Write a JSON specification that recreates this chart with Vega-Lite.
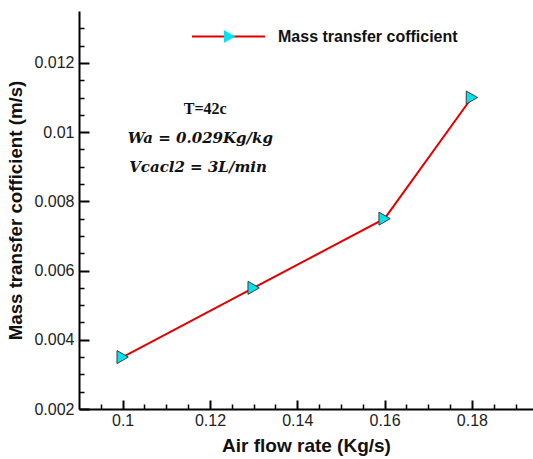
{
  "$schema": "https://vega.github.io/schema/vega-lite/v6.json",
  "width": 454,
  "height": 398,
  "autosize": "none",
  "padding": {"left": 79, "top": 11, "right": 0, "bottom": 50},
  "background": "white",
  "config": {"view": {"stroke": null}, "font": "Liberation Sans"},
  "resolve": {"axis": {"x": "independent", "y": "independent"}},
  "datasets": {
    "pts": [
      {"airflow": 0.1, "k": 0.0035, "series": "Mass transfer cofficient", "marker": "m"},
      {"airflow": 0.13, "k": 0.0055, "series": "Mass transfer cofficient", "marker": "m"},
      {"airflow": 0.16, "k": 0.0075, "series": "Mass transfer cofficient", "marker": "m"},
      {"airflow": 0.18, "k": 0.011, "series": "Mass transfer cofficient", "marker": "m"}
    ]
  },
  "layer": [
    {
      "data": {"name": "pts"},
      "mark": {"type": "line", "strokeWidth": 2},
      "encoding": {
        "x": {
          "field": "airflow", "type": "quantitative",
          "scale": {"domain": [0.09, 0.194], "nice": false, "zero": false},
          "axis": {
            "orient": "bottom",
            "values": [0.1, 0.12, 0.14, 0.16, 0.18],
            "title": "Air flow rate (Kg/s)",
            "labelExpr": "format(datum.value,'~g')",
            "tickSize": -9,
            "tickWidth": 2, "tickColor": "black",
            "domainColor": "black", "domainWidth": 2,
            "labelFontSize": 16, "labelColor": "#222", "labelPadding": 12,
            "labelFlush": false, "labelOverlap": false,
            "titleFontSize": 19, "titleFontWeight": "bold", "titleColor": "#111", "titlePadding": 8,
            "grid": false
          }
        },
        "y": {
          "field": "k", "type": "quantitative",
          "scale": {"domain": [0.002, 0.0135], "nice": false, "zero": false},
          "axis": {
            "orient": "left",
            "values": [0.002, 0.004, 0.006, 0.008, 0.01, 0.012],
            "title": "Mass transfer cofficient (m/s)",
            "labelExpr": "format(datum.value,'~g')",
            "tickSize": -10,
            "tickWidth": 2, "tickColor": "black",
            "domainColor": "black", "domainWidth": 2,
            "labelFontSize": 16, "labelColor": "#222", "labelPadding": 15,
            "labelFlush": false, "labelOverlap": false,
            "titleFontSize": 18.7, "titleFontWeight": "bold", "titleColor": "#111", "titlePadding": 8,
            "grid": false
          }
        },
        "color": {
          "field": "series", "type": "nominal",
          "scale": {"range": ["#e00000"]},
          "legend": {
            "title": null, "orient": "none", "legendX": 112, "legendY": -12,
            "symbolType": "stroke", "symbolSize": 5329, "symbolStrokeWidth": 2,
            "labelFontSize": 16, "labelFontWeight": "bold", "labelColor": "#111",
            "labelOffset": 12, "labelLimit": 400, "padding": 0
          }
        }
      }
    },
    {
      "data": {"name": "pts"},
      "mark": {"type": "point", "filled": true, "fill": "#00e3ef", "stroke": "#3a3a3a", "strokeWidth": 1, "size": 170, "opacity": 1},
      "encoding": {
        "x": {
          "field": "airflow", "type": "quantitative",
          "axis": {
            "orient": "bottom",
            "values": [0.095, 0.105, 0.11, 0.115, 0.125, 0.13, 0.135, 0.145, 0.15, 0.155, 0.165, 0.17, 0.175, 0.185, 0.19],
            "labels": false, "title": null, "domain": false, "grid": false,
            "tickSize": -5, "tickWidth": 1.5, "tickColor": "black"
          }
        },
        "y": {
          "field": "k", "type": "quantitative",
          "axis": {
            "orient": "left",
            "values": [0.0025, 0.003, 0.0035, 0.0045, 0.005, 0.0055, 0.0065, 0.007, 0.0075, 0.0085, 0.009, 0.0095, 0.0105, 0.011, 0.0115, 0.0125, 0.013],
            "labels": false, "title": null, "domain": false, "grid": false,
            "tickSize": -5, "tickWidth": 1.5, "tickColor": "black"
          }
        },
        "shape": {
          "field": "marker", "type": "nominal",
          "scale": {"range": ["triangle-right"]},
          "legend": {
            "title": null, "orient": "none", "legendX": 143, "legendY": 18,
            "symbolSize": 170, "symbolFillColor": "#00e3ef", "symbolStrokeColor": "#3a3a3a",
            "symbolStrokeWidth": 1, "symbolOpacity": 1,
            "labelExpr": "''", "labelOffset": 0, "padding": 0
          }
        }
      }
    },
    {
      "data": {"values": [{"x": 0.1189, "y": 0.010654, "label": "T=42c"}]},
      "mark": {"type": "text", "font": "Liberation Serif", "fontWeight": "bold", "fontSize": 16, "color": "#111", "align": "center", "baseline": "middle"},
      "encoding": {
        "x": {"field": "x", "type": "quantitative", "axis": null},
        "y": {"field": "y", "type": "quantitative", "axis": null},
        "text": {"field": "label"}
      }
    },
    {
      "data": {"values": [
        {"x": 0.1178, "y": 0.00982, "label": "Wa = 0.029Kg/kg"},
        {"x": 0.11726, "y": 0.009, "label": "Vcacl2 = 3L/min"}
      ]},
      "mark": {"type": "text", "font": "DejaVu Serif", "fontWeight": "bold", "fontStyle": "italic", "fontSize": 15, "color": "#111", "align": "center", "baseline": "middle"},
      "encoding": {
        "x": {"field": "x", "type": "quantitative", "axis": null},
        "y": {"field": "y", "type": "quantitative", "axis": null},
        "text": {"field": "label"}
      }
    },
    {
      "mark": {"type": "rule", "color": "#8a8a8a", "strokeWidth": 2},
      "encoding": {"y": {"datum": 0.0135, "type": "quantitative", "axis": null}}
    }
  ]
}
